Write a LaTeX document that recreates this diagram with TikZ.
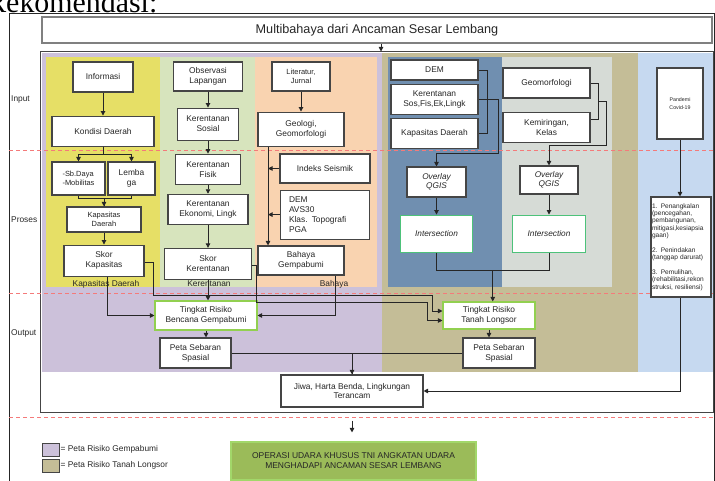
\documentclass[tikz,border=0pt]{standalone}
\usepackage{fontspec}
\setmainfont{Liberation Sans}
\newfontfamily\timesface{Liberation Serif}
\usetikzlibrary{arrows.meta, positioning, calc}

\definecolor{garis}{HTML}{262626}
\definecolor{tepi}{HTML}{454545}
\definecolor{teks}{HTML}{262626}
\definecolor{gempa}{HTML}{CCC1DA}
\definecolor{longsor}{HTML}{C4BD97}
\definecolor{covid}{HTML}{C6D9F0}
\definecolor{kuning}{HTML}{E6DF66}
\definecolor{hijaumuda}{HTML}{D7E4BD}
\definecolor{jingga}{HTML}{F9D3B0}
\definecolor{biru}{HTML}{708FB0}
\definecolor{abu}{HTML}{D6DBD6}
\definecolor{merah}{HTML}{F47A7A}
\definecolor{hijaurisiko}{HTML}{92D050}
\definecolor{hijauinter}{HTML}{4DC27A}
\definecolor{hijauops}{HTML}{9BBB59}

\tikzset{
    sz/.style 2 args={minimum width=#1bp, minimum height=#2bp},
    box/.style={draw=tepi, line width=1.1bp, fill=white, text=teks, align=center, inner sep=1bp,
        font=\fontsize{8.4}{10}\selectfont},
    kecil/.style={font=\fontsize{7.5}{8.5}\selectfont},
    miring/.style={font=\fontsize{8.3}{9.5}\selectfont\itshape},
    risikobox/.style={box, draw=hijaurisiko},
    interbox/.style={box, miring, draw=hijauinter},
    arr/.style={draw=garis, line width=0.9bp, -{Triangle[length=4.5bp, width=4.5bp]}},
    ln/.style={draw=garis, line width=0.9bp},
    batas/.style={draw=merah, line width=0.9bp, dash pattern=on 4bp off 3bp},
    zona/.style={text=teks, inner sep=1bp, font=\fontsize{8.4}{10}\selectfont},
    swatch/.style={draw=tepi, line width=0.8bp, sz={17}{13}, inner sep=0pt},
}

\begin{document}
\begin{tikzpicture}[x=1bp, y=-1bp]
    \useasboundingbox (0,0) rectangle (715,481);
    \clip (0,0) rectangle (715,481);

    \node[font=\timesface\fontsize{30}{30}\selectfont, inner sep=0pt, anchor=base east] (rekom) at (157.5,12.5) {Rekomendasi:};
    \draw[line width=0.8bp, draw=garis] (9,490) -- (9,13) -- (714,13) -- (714,490);

    \node[draw=gray, line width=1.4bp, sz={670}{26}, text=teks, font=\fontsize{12.7}{14}\selectfont] (judul) at (377,30) {Multibahaya dari Ancaman Sesar Lembang};
    \node[draw=tepi, line width=1bp, fill=white, sz={672}{360}, inner sep=0pt] (kerangka) at (377,232) {};

    \fill[gempa] (42,53) rectangle (382,372);
    \fill[longsor] (382,53) rectangle (638,372);
    \fill[covid] (638,53) rectangle (712.5,372);
    \fill[kuning] (46,57) rectangle (160,287);
    \fill[hijaumuda] (160,57) rectangle (255,287);
    \fill[jingga] (255,57) rectangle (377,287);
    \fill[biru] (388,57) rectangle (502,287);
    \fill[abu] (502,57) rectangle (612,287);

    \draw[batas] (9,150) -- (715,150);
    \draw[batas] (9,293) -- (715,293);
    \draw[batas] (9,417) -- (715,417);

    \node[zona, anchor=west] (input) at (10,99) {Input};
    \node[zona, anchor=west] (proses) at (10,220) {Proses};
    \node[zona, anchor=west] (output) at (10,333) {Output};

    \node[zona] (lblkapasitas) at (106,284) {Kapasitas Daerah};
    \node[zona] (lblkerentanan) at (209,284) {Kerentanan};
    \node[zona] (lblbahaya) at (334,284) {Bahaya};

    \node[box, sz={60}{30}] (informasi) at (103,77) {Informasi};
    \node[box, sz={102}{30}, below=23bp of informasi] (kondisi) {Kondisi Daerah};
    \node[box, kecil, sz={53}{33}, align=left] (sbdaya) at (78.5,178.5) {-Sb.Daya\\-Mobilitas};
    \node[box, sz={47}{33}] (lembaga) at (131.5,178.5) {Lemba\\ga};
    \node[box, kecil, sz={74}{25}] (kapdaerah) at (104,219.5) {Kapasitas\\Daerah};
    \node[box, sz={80}{31}, below=12bp of kapdaerah] (skorkap) {Skor\\Kapasitas};

    \node[box, sz={69}{29}] (observasi) at (208,76.5) {Observasi\\Lapangan};
    \node[box, sz={61}{32}, below=16bp of observasi] (sosial) {Kerentanan\\Sosial};
    \node[box, sz={65}{30}, below=13bp of sosial] (fisik) {Kerentanan\\Fisik};
    \node[box, sz={80}{30}, below=9bp of fisik] (ekonomi) {Kerentanan\\Ekonomi, Lingk};
    \node[box, sz={87}{31}, below=23bp of ekonomi] (skorker) {Skor\\Kerentanan};

    \node[box, kecil, sz={58}{29}] (literatur) at (301,76.5) {Literatur,\\Jurnal};
    \node[box, sz={86}{34}, below=20bp of literatur] (geologi) {Geologi,\\Geomorfologi};
    \node[box, sz={90}{29}] (seismik) at (325,168.5) {Indeks Seismik};
    \node[box, sz={89}{49}, align=left, text width=72bp, below=6bp of seismik] (demavs) {DEM\\AVS30\\Klas. Topografi\\PGA};
    \node[box, sz={86}{29}] (bahaya) at (301,260.5) {Bahaya\\Gempabumi};

    \node[box, sz={87}{20}] (dem) at (434.5,70) {DEM};
    \node[box, sz={87}{30}, below=3bp of dem] (kerlingk) {Kerentanan\\Sos,Fis,Ek,Lingk};
    \node[box, sz={87}{30}, below=3bp of kerlingk] (kapdaerahb) {Kapasitas Daerah};
    \node[box, miring, sz={59}{30}] (overlaya) at (436.5,182) {Overlay\\QGIS};
    \node[interbox, sz={72}{37}, below=17bp of overlaya] (intersa) {Intersection};

    \node[box, sz={87}{30}] (geomorf) at (546.5,83) {Geomorfologi};
    \node[box, sz={87}{30}, below=13bp of geomorf] (kemiringan) {Kemiringan,\\Kelas};
    \node[box, miring, sz={58}{28}] (overlayb) at (549,180) {Overlay\\QGIS};
    \node[interbox, sz={73}{37}, below=20bp of overlayb] (intersb) {Intersection};

    \node[box, sz={46}{71}, font=\fontsize{5.3}{8}\selectfont] (pandemi) at (680,103.5) {Pandemi\\Covid-19};
    \node[box, sz={60}{100}, align=left, text width=58bp, font=\fontsize{6.6}{7.4}\selectfont] (rekomendasi) at (681,247)
        {1. Penangkalan\\(pencegahan,\\pembangunan,\\mitigasi,kesiapsia\\gaan)\\[7.4bp]2. Penindakan\\(tanggap darurat)\\[7.4bp]3. Pemulihan,\\(rehabilitasi,rekon\\struksi, resiliensi)};

    \node[risikobox, sz={102}{29}] (tingkatgempa) at (206,315.5) {Tingkat Risiko\\Bencana Gempabumi};
    \node[box, sz={71}{30}] (petagempa) at (195.5,353) {Peta Sebaran\\Spasial};
    \node[risikobox, sz={92}{27}] (tingkatlongsor) at (489,315.5) {Tingkat Risiko\\Tanah Longsor};
    \node[box, sz={72}{30}] (petalongsor) at (499,353) {Peta Sebaran\\Spasial};
    \node[box, sz={142}{32}] (jiwa) at (352,391) {Jiwa, Harta Benda, Lingkungan\\Terancam};
    \node[box, draw=hijaurisiko!85!white, fill=hijauops, sz={245}{38}, font=\fontsize{8.5}{10}\selectfont] (operasi) at (353.5,461)
        {OPERASI UDARA KHUSUS TNI ANGKATAN UDARA\\MENGHADAPI ANCAMAN SESAR LEMBANG};

    \node[swatch, fill=gempa] (lgempa) at (50.5,449.5) {};
    \node[zona, anchor=west] (ketgempa) at (lgempa.east) {= Peta Risiko Gempabumi};
    \node[swatch, fill=longsor] (llongsor) at (50.5,465.5) {};
    \node[zona, anchor=west] (ketlongsor) at (llongsor.east) {= Peta Risiko Tanah Longsor};

    \coordinate (panah) at (381,0);
    \draw[arr] (judul.south -| panah) -- (kerangka.north -| panah);

    \draw[arr] (informasi) -- (kondisi);
    \draw[arr] (kondisi.south) -- ++(0,8) -| (sbdaya.north);
    \draw[arr] (kondisi.south) -- ++(0,8) -| (lembaga.north);
    \draw[arr] (sbdaya.south) -- ++(0,3) -| (kapdaerah.north);
    \draw[ln] (lembaga.south) -- ++(0,3) -| (kapdaerah.north);
    \draw[arr] (kapdaerah) -- (skorkap);

    \draw[arr] (observasi) -- (sosial);
    \draw[arr] (sosial) -- (fisik);
    \draw[arr] (fisik) -- (ekonomi);
    \draw[arr] (ekonomi) -- (skorker);

    \draw[arr] (literatur) -- (geologi);
    \coordinate (garisgeo) at ([xshift=-33bp]geologi.south);
    \draw[arr] (garisgeo) -- (garisgeo |- bahaya.north);
    \draw[arr] (seismik.west) -- (seismik.west -| garisgeo);
    \draw[arr] (demavs.west) -- (demavs.west -| garisgeo);

    \draw[ln] (dem.east) -- ++(9,0) |- (kapdaerahb.east);
    \draw[arr] (kerlingk.east) -- ++(20,0) -- ++(0,54) -| (overlaya.north);
    \draw[arr] (overlaya) -- (intersa);

    \draw[ln] (geomorf.east) -- ++(8,0) |- ([yshift=8bp]kemiringan.east);
    \coordinate (kurung) at ($(geomorf.east)!0.5!([yshift=8bp]kemiringan.east) + (8,0)$);
    \draw[arr] (kurung) -- ++(8,0) -- ++(0,44.5) -| (overlayb.north);
    \draw[arr] (overlayb) -- (intersb);

    \draw[ln] (intersa.south) -- ++(0,18) -| (intersb.south);
    \coordinate (gabung) at ($(intersa.south)!0.5!(intersb.south) + (0,18)$);
    \draw[arr] (gabung) -- (gabung |- tingkatlongsor.north);

    \draw[arr] (pandemi.south) -- (pandemi.south |- rekomendasi.north);
    \draw[arr] ([xshift=-1bp]rekomendasi.south) |- (jiwa.east);

    \draw[arr] (skorker.south) -- (skorker.south |- tingkatgempa.north);
    \draw[arr] ([xshift=3bp]skorkap.south) |- (tingkatgempa.west);
    \draw[arr] ([xshift=34bp]bahaya.south) |- (tingkatgempa.east);
    \draw[arr] ([yshift=-1.5bp]skorkap.east) -- ++(9,0) -- ++(0,33) -| ([xshift=-10bp,yshift=4.5bp]tingkatlongsor.west) -- ([yshift=4.5bp]tingkatlongsor.west);
    \draw[arr] ([yshift=-1.5bp]skorker.east) -- ++(4,0) -- ++(0,37) -| ([xshift=-15bp,yshift=-5bp]tingkatlongsor.west) -- ([yshift=-5bp]tingkatlongsor.west);

    \draw[arr] (tingkatgempa.south) -- (tingkatgempa.south |- petagempa.north);
    \draw[arr] (tingkatlongsor.south) -- (tingkatlongsor.south |- petalongsor.north);
    \draw[arr] (petagempa.east) -| (jiwa.north);
    \draw[ln] (petalongsor.west) -| (jiwa.north);
    \draw[arr, shorten <=13bp, shorten >=9bp] (jiwa.south) -- (jiwa.south |- operasi.north);
\end{tikzpicture}
\end{document}
